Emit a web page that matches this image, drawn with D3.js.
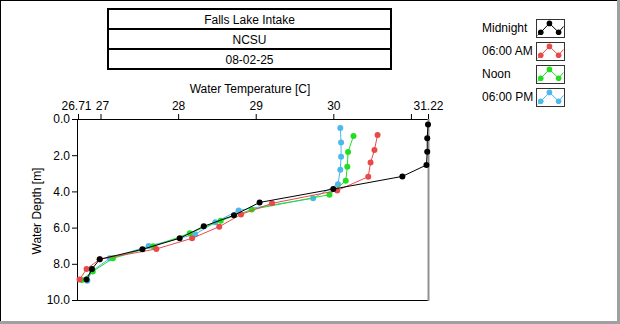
<!DOCTYPE html>
<html><head><meta charset="utf-8">
<script src="https://cdn.jsdelivr.net/npm/d3@7"></script>
<style>
html,body{margin:0;padding:0;background:#fff;}
svg{display:block;font-family:"Liberation Sans",Arial,sans-serif;}
</style></head>
<body><svg id="c" width="620" height="324"></svg>
<script>
const titleLines = ["Falls Lake Intake", "NCSU", "08-02-25"];
const seriesNames = ["Midnight", "06:00 AM", "Noon", "06:00 PM"];
const seriesColors = ["#000000", "#e84a4a", "#22dd22", "#4cb8ec"];
const xTicks = [26.71, 27, 28, 29, 30, 31, 31.22];
const xTickLabels = ["26.71", "27", "28", "29", "30", "", "31.22"];
const yTicks = [0, 2, 4, 6, 8, 10];

const midnightTemp  = [31.22, 31.21, 31.21, 31.20, 30.89, 30.00, 29.05, 28.72, 28.33, 28.02, 27.54, 26.99, 26.89, 26.82];
const midnightDepth = [0.30, 1.07, 1.81, 2.54, 3.17, 3.87, 4.61, 5.32, 5.93, 6.59, 7.20, 7.75, 8.29, 8.87];
const amTemp  = [30.57, 30.53, 30.48, 30.45, 30.05, 29.21, 28.81, 28.53, 28.18, 27.72, 26.99, 26.82, 26.73];
const amDepth = [0.88, 1.71, 2.41, 3.19, 3.95, 4.66, 5.27, 5.95, 6.59, 7.18, 7.75, 8.29, 8.87];
const noonTemp  = [30.26, 30.19, 30.18, 30.16, 29.95, 28.95, 28.55, 28.15, 27.68, 27.16, 26.90, 26.76];
const noonDepth = [0.94, 1.82, 2.64, 3.41, 4.18, 5.00, 5.62, 6.31, 7.03, 7.70, 8.42, 8.90];
const pmTemp  = [30.09, 30.10, 30.10, 30.09, 30.06, 29.74, 28.78, 28.48, 28.22, 27.62, 27.12, 26.89, 26.83];
const pmDepth = [0.50, 1.30, 2.08, 2.80, 3.60, 4.38, 5.05, 5.70, 6.37, 7.02, 7.70, 8.40, 8.93];

const temps = [midnightTemp, amTemp, noonTemp, pmTemp];
const depths = [midnightDepth, amDepth, noonDepth, pmDepth];

const svg = d3.select("#c");

// outer frame
svg.append("line").attr("x1",0).attr("y1",0.5).attr("x2",620).attr("y2",0.5).attr("stroke","#000");
svg.append("line").attr("x1",0.5).attr("y1",0).attr("x2",0.5).attr("y2",324).attr("stroke","#000");
svg.append("rect").attr("x",617).attr("y",0).attr("width",3).attr("height",324).attr("fill","#a0a0a0");
svg.append("rect").attr("x",0).attr("y",321).attr("width",620).attr("height",3).attr("fill","#a0a0a0");

// title boxes
const tb = {x:108, y:9, w:283, h:20};
titleLines.forEach((t,i)=>{
  svg.append("rect").attr("x",tb.x).attr("y",tb.y+i*tb.h).attr("width",tb.w).attr("height",tb.h)
    .attr("fill","#fff").attr("stroke","#000").attr("stroke-width",2);
});
titleLines.forEach((t,i)=>{
  svg.append("text").attr("x",tb.x+tb.w/2).attr("y",tb.y+i*tb.h+tb.h/2+4.5)
    .attr("text-anchor","middle").attr("font-size",12).attr("fill","#000").text(t);
});

// scales
const x = d3.scaleLinear().domain([26.71, 31.22]).range([78, 428]);
const y = d3.scaleLinear().domain([0, 10]).range([119, 300]);

// axes
const xAxis = d3.axisTop(x).tickValues(xTicks).tickFormat((d,i)=>xTickLabels[i]).tickSize(5).tickSizeOuter(0);
const gx = svg.append("g").attr("transform","translate(0,119)").call(xAxis);
gx.select(".domain").remove();
gx.selectAll("text").attr("font-size",12).attr("fill","#000").attr("font-family","Liberation Sans, Arial, sans-serif").attr("dy","-0.1em")
  .attr("dx",(d,i)=> i===0 ? -2 : (i===1 ? 1.5 : 0));
gx.selectAll("line").attr("stroke","#000");

const yAxis = d3.axisLeft(y).tickValues(yTicks).tickFormat(d3.format(".1f")).tickSize(6).tickSizeOuter(0);
const gy = svg.append("g").attr("transform","translate(78,0)").call(yAxis);
gy.select(".domain").remove();
gy.selectAll("text").attr("font-size",12).attr("fill","#000").attr("font-family","Liberation Sans, Arial, sans-serif").attr("x",-8);
gy.selectAll("line").attr("stroke","#000");

// plot frame
svg.append("line").attr("x1",77.5).attr("y1",119).attr("x2",77.5).attr("y2",301).attr("stroke","#000");
svg.append("line").attr("x1",77).attr("y1",119.5).attr("x2",429).attr("y2",119.5).attr("stroke","#000");
svg.append("line").attr("x1",77).attr("y1",300.5).attr("x2",429).attr("y2",300.5).attr("stroke","#000");
svg.append("line").attr("x1",428.5).attr("y1",119).attr("x2",428.5).attr("y2",301).attr("stroke","#909090").attr("stroke-width",2);

// axis titles
svg.append("text").attr("x",250).attr("y",93).attr("text-anchor","middle").attr("font-size",12).text("Water Temperature [C]");
svg.append("text").attr("transform","translate(41,211) rotate(-90)").attr("text-anchor","middle").attr("font-size",12).text("Water Depth [m]");

// series (draw last series first so Midnight sits on top)
const line = d3.line().x(d=>x(d[0])).y(d=>y(d[1]));
const plot = svg.append("g");
for (let s = 3; s >= 0; s--) {
  const pts = temps[s].map((t,i)=>[t, depths[s][i]]);
  plot.append("path").datum(pts).attr("d",line).attr("fill","none")
    .attr("stroke",seriesColors[s]).attr("stroke-width",1);
  plot.selectAll(null).data(pts).enter().append("circle")
    .attr("cx",d=>x(d[0])).attr("cy",d=>y(d[1])).attr("r",3).attr("fill",seriesColors[s]);
}

// legend
const lg = {tx:482, bx:536, by:19, bw:28, bh:18, dy:23};
seriesNames.forEach((n,i)=>{
  const yy = lg.by + i*lg.dy;
  svg.append("text").attr("x",lg.tx).attr("y",yy+13).attr("font-size",12).text(n);
  svg.append("rect").attr("x",lg.bx+0.5).attr("y",yy+0.5).attr("width",lg.bw).attr("height",lg.bh)
    .attr("fill","#fff").attr("stroke","#333");
  const ix = d3.scaleLinear().domain([0,1]).range([lg.bx+1, lg.bx+lg.bw]);
  const iy = d3.scaleLinear().domain([0,1]).range([yy+1, yy+lg.bh]);
  const ipts = [[0.02,0.9],[0.14,0.72],[0.46,0.2],[0.8,0.72],[0.98,0.38]];
  svg.append("path").datum(ipts).attr("d",d3.line().x(d=>ix(d[0])).y(d=>iy(d[1])))
    .attr("fill","none").attr("stroke",seriesColors[i]).attr("stroke-width",1);
  svg.selectAll(null).data(ipts.slice(1,4)).enter().append("circle")
    .attr("cx",d=>ix(d[0])).attr("cy",d=>iy(d[1])).attr("r",2.8).attr("fill",seriesColors[i]);
});
</script></body></html>
